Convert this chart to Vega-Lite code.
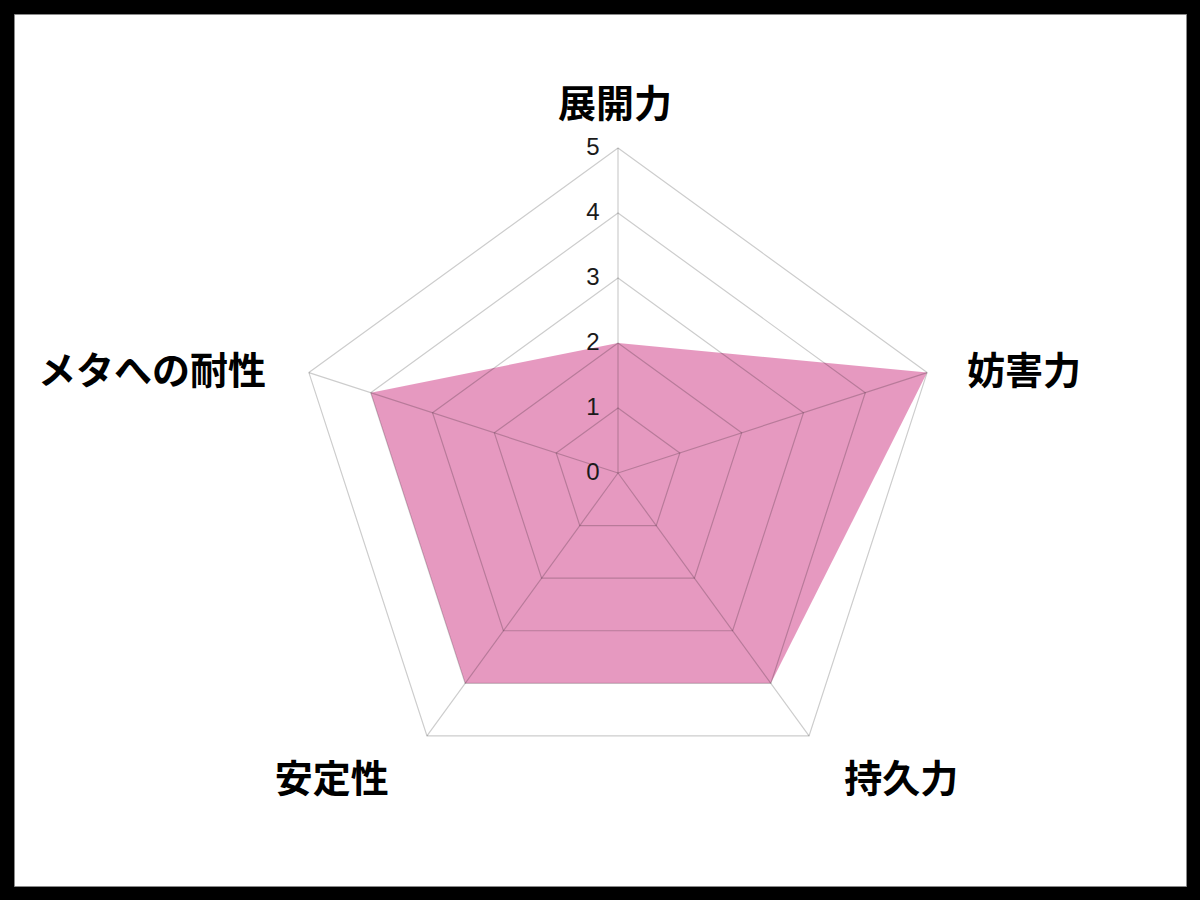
{
  "$schema": "https://vega.github.io/schema/vega-lite/v6.json",
  "description": "Radar chart of five ratings, drawn on a pentagon grid.",
  "width": 1200,
  "height": 900,
  "autosize": {"type": "fit", "contains": "padding"},
  "padding": 14,
  "background": "#000000",
  "config": {"view": {"fill": "#ffffff", "stroke": "#8a8a8a", "strokeWidth": 1}},
  "datasets": {
    "scores": [
      {"axis": "展開力", "k": 0, "value": 2},
      {"axis": "妨害力", "k": 1, "value": 5},
      {"axis": "持久力", "k": 2, "value": 4},
      {"axis": "安定性", "k": 3, "value": 4},
      {"axis": "メタへの耐性", "k": 4, "value": 4}
    ],
    "grid": [
      {"k": 0, "level": 1}, {"k": 1, "level": 1}, {"k": 2, "level": 1}, {"k": 3, "level": 1}, {"k": 4, "level": 1},
      {"k": 0, "level": 2}, {"k": 1, "level": 2}, {"k": 2, "level": 2}, {"k": 3, "level": 2}, {"k": 4, "level": 2},
      {"k": 0, "level": 3}, {"k": 1, "level": 3}, {"k": 2, "level": 3}, {"k": 3, "level": 3}, {"k": 4, "level": 3},
      {"k": 0, "level": 4}, {"k": 1, "level": 4}, {"k": 2, "level": 4}, {"k": 3, "level": 4}, {"k": 4, "level": 4},
      {"k": 0, "level": 5}, {"k": 1, "level": 5}, {"k": 2, "level": 5}, {"k": 3, "level": 5}, {"k": 4, "level": 5}
    ],
    "ticks": [{"t": 0}, {"t": 1}, {"t": 2}, {"t": 3}, {"t": 4}, {"t": 5}]
  },
  "layer": [
    {
      "data": {"name": "scores"},
      "transform": [
        {"calculate": "PI / 2 - datum.k * 2 * PI / 5", "as": "theta"},
        {"calculate": "datum.value * cos(datum.theta)", "as": "x"},
        {"calculate": "datum.value * sin(datum.theta)", "as": "y"}
      ],
      "mark": {"type": "line", "interpolate": "linear-closed", "fill": "#e07fb0", "fillOpacity": 0.8, "strokeWidth": 0},
      "encoding": {
        "x": {"field": "x", "type": "quantitative", "axis": null, "scale": {"domain": [-9.292, 8.738], "nice": false, "zero": false}},
        "y": {"field": "y", "type": "quantitative", "axis": null, "scale": {"domain": [-6.354, 7.062], "nice": false, "zero": false}},
        "order": {"field": "k"}
      }
    },
    {
      "data": {"name": "grid"},
      "transform": [
        {"calculate": "PI / 2 - datum.k * 2 * PI / 5", "as": "theta"},
        {"calculate": "datum.level * cos(datum.theta)", "as": "x"},
        {"calculate": "datum.level * sin(datum.theta)", "as": "y"}
      ],
      "mark": {"type": "line", "interpolate": "linear-closed", "stroke": "#000000", "strokeOpacity": 0.2, "strokeWidth": 1.2},
      "encoding": {
        "x": {"field": "x", "type": "quantitative", "axis": null},
        "y": {"field": "y", "type": "quantitative", "axis": null},
        "detail": {"field": "level"},
        "order": {"field": "k"}
      }
    },
    {
      "data": {"name": "scores"},
      "transform": [
        {"calculate": "PI / 2 - datum.k * 2 * PI / 5", "as": "theta"},
        {"calculate": "5 * cos(datum.theta)", "as": "x"},
        {"calculate": "5 * sin(datum.theta)", "as": "y"}
      ],
      "mark": {"type": "rule", "stroke": "#000000", "strokeOpacity": 0.2, "strokeWidth": 1.2},
      "encoding": {
        "x": {"field": "x", "type": "quantitative", "axis": null},
        "y": {"field": "y", "type": "quantitative", "axis": null},
        "x2": {"datum": 0},
        "y2": {"datum": 0}
      }
    },
    {
      "data": {"name": "ticks"},
      "mark": {"type": "text", "font": "Liberation Sans", "fontSize": 24, "color": "#1a1a1a", "align": "center", "baseline": "middle", "dx": -25},
      "encoding": {
        "x": {"datum": 0, "type": "quantitative", "axis": null},
        "y": {"field": "t", "type": "quantitative", "axis": null},
        "text": {"field": "t", "type": "quantitative"}
      }
    },
    {
      "data": {"name": "scores"},
      "transform": [
        {"calculate": "PI / 2 - datum.k * 2 * PI / 5", "as": "theta"},
        {"calculate": "5.5 * cos(datum.theta)", "as": "x"},
        {"calculate": "5.5 * sin(datum.theta)", "as": "y"}
      ],
      "mark": {
        "type": "text",
        "font": "Noto Sans CJK JP",
        "fontWeight": "bold",
        "fontSize": 38,
        "color": "#000000",
        "baseline": "middle",
        "align": {"expr": "['center', 'left', 'left', 'right', 'right'][datum.k]"},
        "dx": {"expr": "[-3, 9, 16, -19, -12][datum.k]"},
        "dy": {"expr": "[-10, 10, 19, 19, 10][datum.k]"}
      },
      "encoding": {
        "x": {"field": "x", "type": "quantitative", "axis": null},
        "y": {"field": "y", "type": "quantitative", "axis": null},
        "text": {"field": "axis", "type": "nominal"}
      }
    }
  ]
}
